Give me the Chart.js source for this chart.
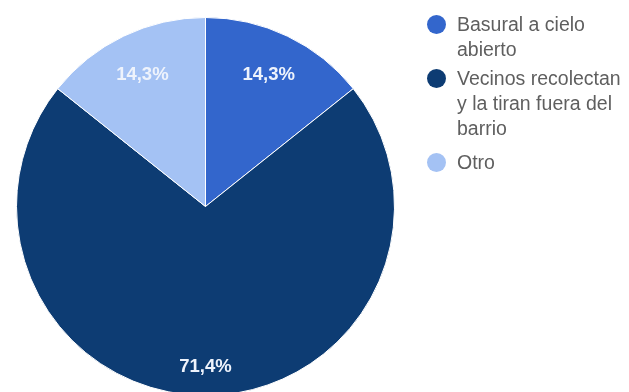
<!DOCTYPE html>
<html>
<head>
<meta charset="utf-8">
<script src="https://cdn.jsdelivr.net/npm/chart.js@4/dist/chart.umd.min.js"></script>
<style>
  html, body { margin: 0; padding: 0; background: #fff; overflow: hidden; width: 629px; height: 392px; }
  #wrap { position: relative; width: 629px; height: 392px; }
  #pie { position: absolute; left: 0; top: 0; }
  #legend { position: absolute; left: 427px; top: 12px; width: 200px; font-family: "Liberation Sans", Arial, sans-serif; font-size: 19.5px; line-height: 25px; color: #5f5f5f; }
  .item { position: relative; padding-left: 30px; margin-bottom: 4px; }
  .item:last-child { margin-top: 9px; }
  .dot { position: absolute; left: 0; top: 3px; width: 19px; height: 19px; border-radius: 50%; }
</style>
</head>
<body>
<div id="wrap">
  <canvas id="pie" width="629" height="400"></canvas>
  <div id="legend"></div>
</div>
<script>
const labels = ["Basural a cielo abierto", "Vecinos recolectan y la tiran fuera del barrio", "Otro"];
const counts = [1, 5, 1];
const colors = ["#3366cc", "#0d3c73", "#a4c2f4"];

function fmtPct(v, total) {
  return (v / total * 100).toFixed(1).replace(".", ",") + "%";
}

const pctLabels = {
  id: "pctLabels",
  afterDatasetsDraw(chart) {
    const ctx = chart.ctx;
    const data = chart.data.datasets[0].data;
    const total = data.reduce((a, b) => a + b, 0);
    const meta = chart.getDatasetMeta(0);
    ctx.save();
    ctx.font = "bold 18.5px 'Liberation Sans', Arial, sans-serif";
    ctx.fillStyle = "#eef3fc";
    ctx.textAlign = "center";
    ctx.textBaseline = "middle";
    meta.data.forEach((arc, i) => {
      const p = arc.getProps(["x", "y", "startAngle", "endAngle", "outerRadius"], true);
      const mid = (p.startAngle + p.endAngle) / 2;
      const share = data[i] / total;
      const r = p.outerRadius * (0.75 + 0.14 * share);
      ctx.fillText(fmtPct(data[i], total), p.x + Math.cos(mid) * r, p.y + Math.sin(mid) * r);
    });
    ctx.restore();
  },
};

new Chart(document.getElementById("pie"), {
  type: "pie",
  data: {
    labels,
    datasets: [{ data: counts, backgroundColor: colors, borderColor: "#ffffff", borderWidth: 1 }],
  },
  options: {
    responsive: false,
    animation: false,
    layout: { padding: { left: 16, top: 17, right: 234, bottom: 4 } },
    plugins: { legend: { display: false }, tooltip: { enabled: false } },
  },
  plugins: [pctLabels],
});

const legend = document.getElementById("legend");
labels.forEach((text, i) => {
  const item = document.createElement("div");
  item.className = "item";
  const dot = document.createElement("span");
  dot.className = "dot";
  dot.style.background = colors[i];
  item.appendChild(dot);
  item.appendChild(document.createTextNode(text));
  legend.appendChild(item);
});
</script>
</body>
</html>
